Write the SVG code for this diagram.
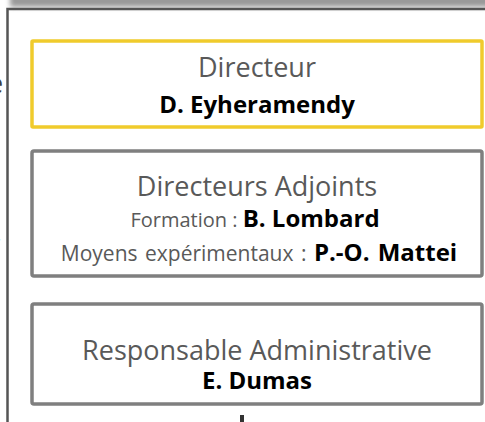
<svg xmlns="http://www.w3.org/2000/svg" width="485" height="422" viewBox="0 0 485 422">
<defs>
<filter id="blur" x="-10%" y="-100%" width="120%" height="300%"><feGaussianBlur stdDeviation="2.5"/></filter>
<style>
.box{fill:#fff;stroke-width:3.5}
.gold{stroke:#F0CB2C}
.grey{stroke:#7F7F7F}
.t{font-family:"Open Sans","Noto Sans",sans-serif;text-anchor:middle}
.title{font-size:27px;fill:#595959}
.sub{font-size:20px;fill:#595959}
.sub2{font-size:21px;fill:#595959}
.name{font-size:24px;font-weight:bold;fill:#000}
.conn{fill:none;stroke-width:4}
</style>
</defs>
<rect width="485" height="422" fill="#fff"/>
<g id="frame">
<rect x="10" y="-12" width="490" height="19" fill="#9a9a9a" filter="url(#blur)"/>
<path d="M7.5,422 V9 H485" fill="none" stroke="#555" stroke-width="2.5"/>
<text x="-12" y="93" font-family="Open Sans, sans-serif" font-size="27" fill="#404040">e</text>
<text x="-8" y="250" font-family="Open Sans, sans-serif" font-size="20" fill="#404040">r</text>
</g>
<g id="connectors">
<path class="conn" d="M463,258 H482" stroke="#6b6b6b"/>
<path class="conn" d="M242,415 V422" stroke="#333"/>
</g>
<g id="directeur">
<rect class="box gold" x="32" y="41" width="450" height="86" rx="1"/>
<text class="t title" x="257" y="77">Directeur</text>
<text class="t name" x="257" y="113">D. Eyheramendy</text>
</g>
<g id="adjoints">
<rect class="box grey" x="32" y="151" width="450" height="125" rx="2"/>
<text class="t title" x="257" y="196">Directeurs Adjoints</text>
<text class="t" x="255" y="227"><tspan class="sub">Formation : </tspan><tspan class="name">B. Lombard</tspan></text>
<text class="t" x="259" y="261" word-spacing="2"><tspan class="sub2">Moyens expérimentaux : </tspan><tspan class="name">P.-O. Mattei</tspan></text>
</g>
<g id="administrative">
<rect class="box grey" x="32" y="304" width="450" height="100" rx="2"/>
<text class="t title" x="257" y="360">Responsable Administrative</text>
<text class="t name" x="257" y="389">E. Dumas</text>
</g>
</svg>
